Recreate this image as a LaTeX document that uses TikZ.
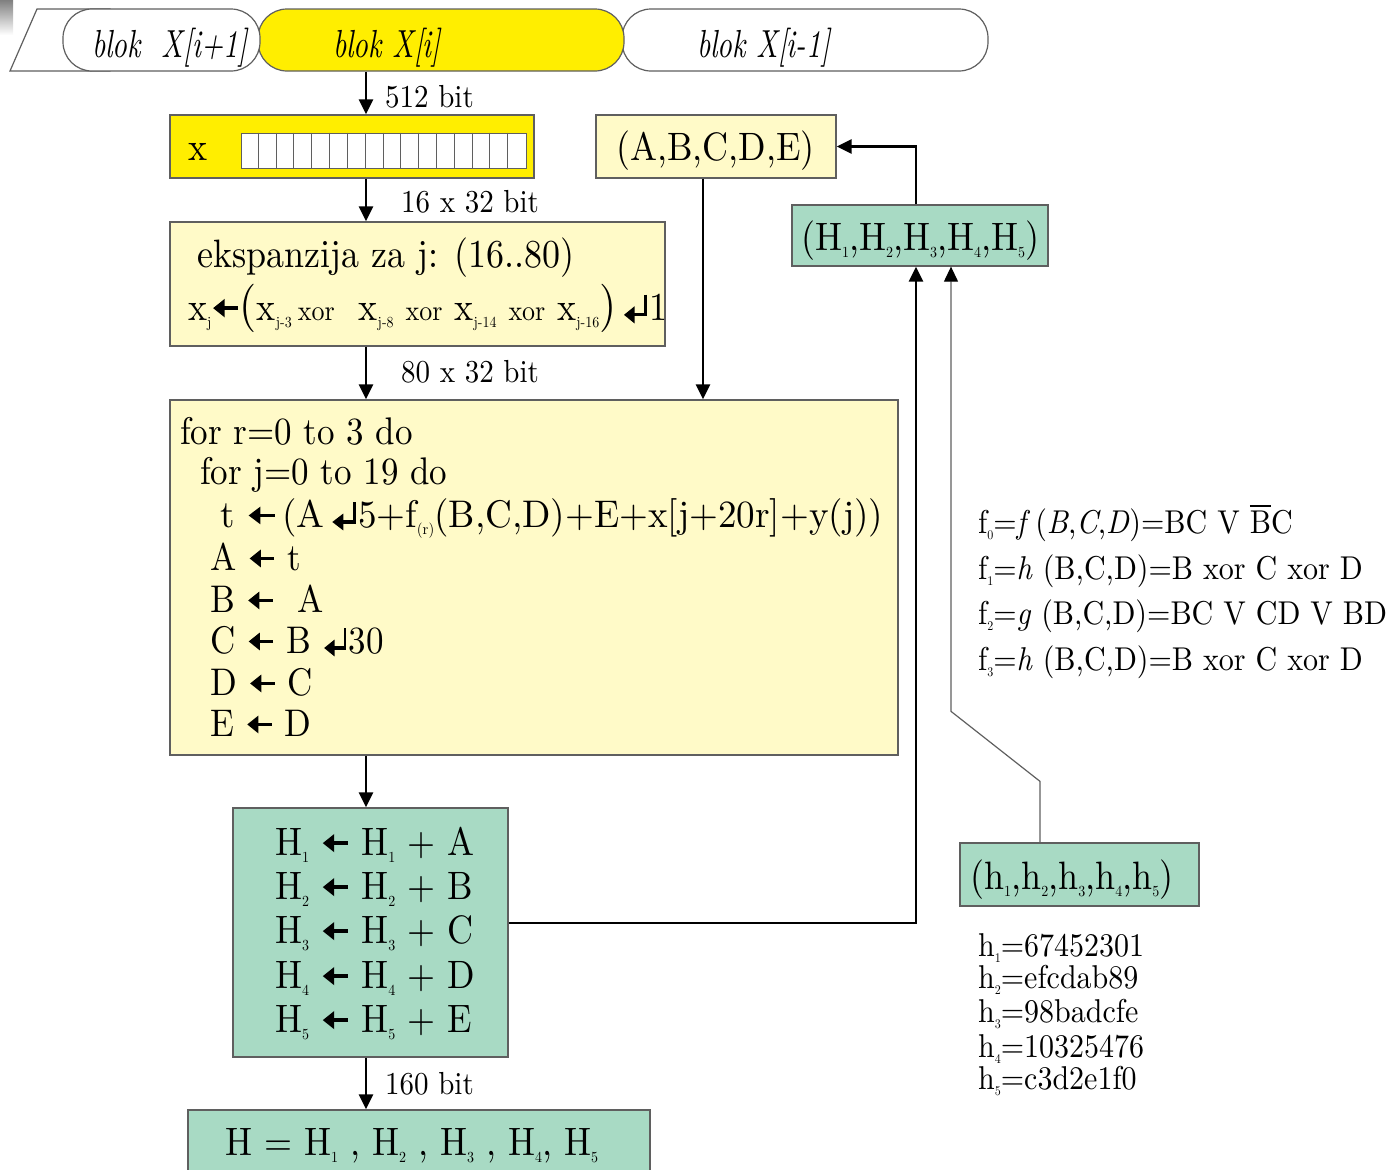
\documentclass[tikz,border=0pt]{standalone}
\usepackage{fontspec}
\setmainfont{lmroman10}[Extension=.otf,UprightFont=*-regular,ItalicFont=*-italic,BoldFont=*-bold,BoldItalicFont=*-bolditalic]
\usepackage{graphicx}
\usetikzlibrary{arrows.meta,calc}
\definecolor{yel}{RGB}{255,238,0}
\definecolor{lyel}{RGB}{255,250,200}
\definecolor{grn}{RGB}{168,218,196}
\definecolor{bord}{RGB}{95,95,95}
\definecolor{shade}{RGB}{230,232,236}
\newcommand\LA{\tikz[baseline=0pt]\draw[black,line width=0.085em,-{Triangle[length=0.32em,width=0.44em]}] (0.72em,0.3em)--(0.02em,0.3em);}
\newcommand\RET{\tikz[baseline=0pt]\draw[black,line width=0.08em,-{Triangle[length=0.3em,width=0.42em]}] (0.62em,0.64em)--(0.62em,0.13em)--(0.02em,0.13em);\hspace{0.06em}}
\newcommand\sbx[2][14]{\raisebox{-0.2em}{\fontsize{#1}{#1}\selectfont #2}}
\newcommand\vs[1]{\scalebox{1}[1.1]{#1}}
\newcommand\xo{\fontsize{26}{26}\selectfont}
\newcommand\bp{\fontsize{44}{44}\selectfont}
\newcommand\obar[1]{\leavevmode\rlap{\raisebox{0.78em}{\rule{0.72em}{0.07em}}}#1}
\begin{document}
\begin{tikzpicture}[x=1pt,y=-1pt,
  box/.style={draw=bord,line width=1.3pt,inner sep=0pt},
  tape/.style={draw=bord,line width=1.2pt,inner sep=0pt,rounded corners=29pt,minimum height=62pt},
  conn/.style={draw=black,line width=2.6pt,-{Triangle[length=15pt,width=14pt]}},
  txt/.style={anchor=base west,inner sep=0pt},
  big/.style={txt,font=\fontsize{36}{36}\selectfont},
  mid/.style={txt,font=\fontsize{35}{35}\selectfont},
  lab/.style={txt,font=\fontsize{29}{29}\selectfont},
  sml/.style={txt,font=\fontsize{30}{30}\selectfont},
  tp/.style={txt,font=\fontsize{29}{29}\selectfont\itshape},
]
\useasboundingbox (0,0) rectangle (1393,1170);
\fill[shade] (0,0) rectangle (13,35);
% tape
\draw[draw=bord,line width=1.2pt,fill=white] (10,71) -- (37,9) -- (110,9) -- (110,71) -- cycle;
\node[tape,fill=white,minimum width=366pt] (tape3) at (805,40) {};
\node[tape,fill=yel,minimum width=366pt] (tape2) at (441,40) {};
\node[tape,fill=white,minimum width=197pt] (tape1) at (161.5,40) {};
\node[tp] (t1) at (92,57) {\scalebox{1}[1.35]{blok\ \ X[i+1]}};
\node[tp] (t2) at (333,57) {\scalebox{1}[1.35]{blok X[i]}};
\node[tp] (t3) at (697,57) {\scalebox{1}[1.35]{blok X[i-1]}};
\coordinate (col) at (366,0);
% boxes
\node[box,fill=yel,minimum width=364pt,minimum height=63pt] (xbox) at (352,146.5) {};
\node[box,fill=white,line width=1pt,minimum width=285pt,minimum height=35pt] (cells) at (383.5,150.5) {};
\foreach \i in {1,...,15}
  \draw[bord,line width=1pt] ($(cells.north west)+(\i*17.8125,0)$) -- ($(cells.south west)+(\i*17.8125,0)$);
\node[big] (xl) at (188,160) {\vs{x}};
\node[box,fill=lyel,minimum width=495pt,minimum height=124pt] (exp) at (417.5,284) {};
\node[box,fill=lyel,minimum width=240pt,minimum height=63pt] (abcde) at (716,146.5) {};
\node[box,fill=lyel,minimum width=728pt,minimum height=355pt] (loop) at (534,577.5) {};
\node[box,fill=grn,minimum width=275pt,minimum height=249pt] (hupd) at (370.5,932.5) {};
\node[box,fill=grn,minimum width=462pt,minimum height=76pt] (final) at (419,1148) {};
\node[box,fill=grn,minimum width=256pt,minimum height=61pt] (Hbox) at (920,235.5) {};
\node[box,fill=grn,minimum width=239pt,minimum height=63pt] (hbox) at (1079.5,874.5) {};
% labels
\node[lab] (lb1) at (385,107) {\vs{512 bit}};
\node[lab] (lb2) at (401,212) {\vs{16 x 32 bit}};
\node[lab] (lb3) at (401,382) {\vs{80 x 32 bit}};
\node[lab] (lb4) at (385,1094) {\vs{160 bit}};
% expansion
\node[big] (e1) at (197,267) {\vs{ekspanzija za j: (16..80)}};
\node[big] (e2) at (188,320) {\vs{x\sbx{j}\LA{\bp(}x\sbx{j-3}\,{\xo xor}\ \ x\sbx{j-8} {\xo xor} x\sbx{j-14} {\xo xor} x\sbx{j-16}{\bp)}\,\RET1}};
\node[big] (abt) at (616,160) {\vs{(A,B,C,D,E)}};
% loop
\node[mid] (l1) at (180,444) {\vs{for r=0 to 3 do}};
\node[mid] (l2) at (200,484) {\vs{for j=0 to 19 do}};
\node[mid] (l3) at (220,527) {\scalebox{1.06}[1.1]{t \LA\,(A\,\RET5+f\sbx{(r)}(B,C,D)+E+x[j+20r]+y(j))}};
\node[mid] (l4) at (210,570) {\vs{A \LA{} t}};
\node[mid] (l5) at (210,612) {\vs{B \LA{} \ A}};
\node[mid] (l6) at (210,653) {\vs{C \LA{} B \RET30}};
\node[mid] (l7) at (210,695) {\vs{D \LA{} C}};
\node[mid] (l8) at (210,736) {\vs{E \LA{} D}};
% H update
\node[big] (h1l) at (275,855) {\vs{H\sbx{1} \LA{} H\sbx{1} + A}};
\node[big] (h2l) at (275,899) {\vs{H\sbx{2} \LA{} H\sbx{2} + B}};
\node[big] (h3l) at (275,943) {\vs{H\sbx{3} \LA{} H\sbx{3} + C}};
\node[big] (h4l) at (275,988) {\vs{H\sbx{4} \LA{} H\sbx{4} + D}};
\node[big] (h5l) at (275,1032) {\vs{H\sbx{5} \LA{} H\sbx{5} + E}};
\node[big] (fin) at (225,1155) {\vs{H = H\sbx{1} , H\sbx{2} , H\sbx{3} , H\sbx{4}, H\sbx{5}}};
\node[big] (Ht) at (801,250) {\vs{(H\sbx{1},H\sbx{2},H\sbx{3},H\sbx{4},H\sbx{5})}};
\node[big] (ht) at (970,889) {\vs{(h\sbx{1},h\sbx{2},h\sbx{3},h\sbx{4},h\sbx{5})}};
% functions
\node[sml] (f0) at (978,533) {\vs{f\sbx[12]{0}=\textit{f}\,(\textit{B},\textit{C},\textit{D})=BC V \obar{B}C}};
\node[sml] (f1) at (978,579) {\vs{f\sbx[12]{1}=\textit{h} (B,C,D)=B xor C xor D}};
\node[sml] (f2) at (978,624) {\vs{f\sbx[12]{2}=\textit{g} (B,C,D)=BC V CD V BD}};
\node[sml] (f3) at (978,670) {\vs{f\sbx[12]{3}=\textit{h} (B,C,D)=B xor C xor D}};
% h values
\node[sml] (v1) at (978,956) {\vs{h\sbx[12]{1}=67452301}};
\node[sml] (v2) at (978,988) {\vs{h\sbx[12]{2}=efcdab89}};
\node[sml] (v3) at (978,1022) {\vs{h\sbx[12]{3}=98badcfe}};
\node[sml] (v4) at (978,1057) {\vs{h\sbx[12]{4}=10325476}};
\node[sml] (v5) at (978,1089) {\vs{h\sbx[12]{5}=c3d2e1f0}};
% connectors
\draw[conn] (tape2.south -| col) -- (xbox.north -| col);
\draw[conn] (xbox.south -| col) -- (exp.north -| col);
\draw[conn] (exp.south -| col) -- (loop.north -| col);
\draw[conn] (loop.south -| col) -- (hupd.north -| col);
\draw[conn] (hupd.south -| col) -- (final.north -| col);
\draw[conn] ([xshift=-13pt]abcde.south) -- ([xshift=-13pt]abcde.south |- loop.north);
\draw[conn] ([yshift=9.5pt]hupd.east) -| ([xshift=-4pt]Hbox.south);
\draw[conn] ([xshift=-4pt]Hbox.north) |- (abcde.east);
\draw[bord,line width=1.2pt,-{Triangle[length=15pt,width=14pt,color=black]}]
  ([xshift=-39.5pt]hbox.north) -- ++(0,-61) -- ++(-89,-70) -- ([xshift=31pt]Hbox.south);
\end{tikzpicture}
\end{document}
